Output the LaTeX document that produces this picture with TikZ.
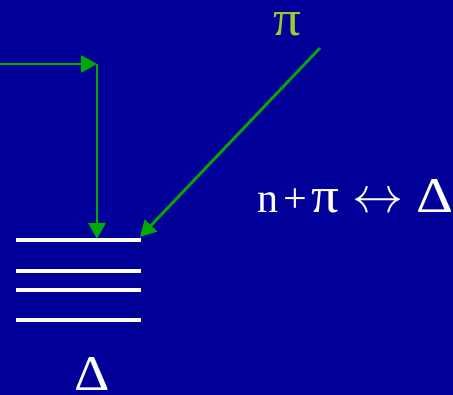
\documentclass[tikz,border=0pt]{standalone}
\usepackage{graphicx}
\usepackage{fontspec}
\setmainfont{Liberation Serif}
\usetikzlibrary{arrows.meta}
\definecolor{bgblue}{RGB}{0,0,153}
\definecolor{arrgreen}{RGB}{0,170,0}
\definecolor{pigreen}{RGB}{153,204,51}
\begin{document}
\begin{tikzpicture}[x=1pt,y=1pt,
  garrow/.style={draw=arrgreen,line width=2.8pt,-{Triangle[length=16pt,width=17pt]}},
  level/.style={draw=white,line width=3.6pt},
  txt/.style={text=white,inner sep=0pt}]
\fill[bgblue] (0,0) rectangle (453,395);
\useasboundingbox (0,0) rectangle (453,395);
% level lines
\coordinate (l1a) at (16,155); \coordinate (l1b) at (141,155);
\coordinate (l2a) at (16,124); \coordinate (l2b) at (141,124);
\coordinate (l3a) at (16,105); \coordinate (l3b) at (141,105);
\coordinate (l4a) at (16,75);  \coordinate (l4b) at (141,75);
\draw[level] (l1a) -- (l1b);
\draw[level] (l2a) -- (l2b);
\draw[level] (l3a) -- (l3b);
\draw[level] (l4a) -- (l4b);
% arrows
\coordinate (nstart) at (0,331);
\coordinate (corner) at (97,331);
\coordinate (ntarget) at (97,156);
\coordinate (pistart) at (320,347);
\coordinate (pitarget) at (140,158);
\draw[garrow] (nstart) -- (corner);
\draw[garrow] (corner) -- (ntarget);
\draw[garrow] (pistart) -- (pitarget);
% labels
\node[txt,text=pigreen,font=\fontsize{50}{50}\selectfont,anchor=base,text height=26pt,text depth=0pt] (pi) at (287,359) {\scalebox{1.1}[1]{π}};
\node[txt,font=\fontsize{42}{42}\selectfont,anchor=base west] (eq) at (257,182)
  {n\hspace{5pt}+\hspace{5pt}{\fontsize{50}{50}\selectfont\scalebox{1.1}[1]{π}}\hspace{13pt}{\fontsize{24}{24}\selectfont\scalebox{2.05}{$\leftrightarrow$}}\hspace{13pt}{\fontsize{50}{50}\selectfont\scalebox{1.15}[1]{Δ}}};
\node[txt,font=\fontsize{50}{50}\selectfont,anchor=base,text height=36pt,text depth=0pt] (delta) at (92,4) {\scalebox{1.1}[1]{Δ}};
\end{tikzpicture}
\end{document}
